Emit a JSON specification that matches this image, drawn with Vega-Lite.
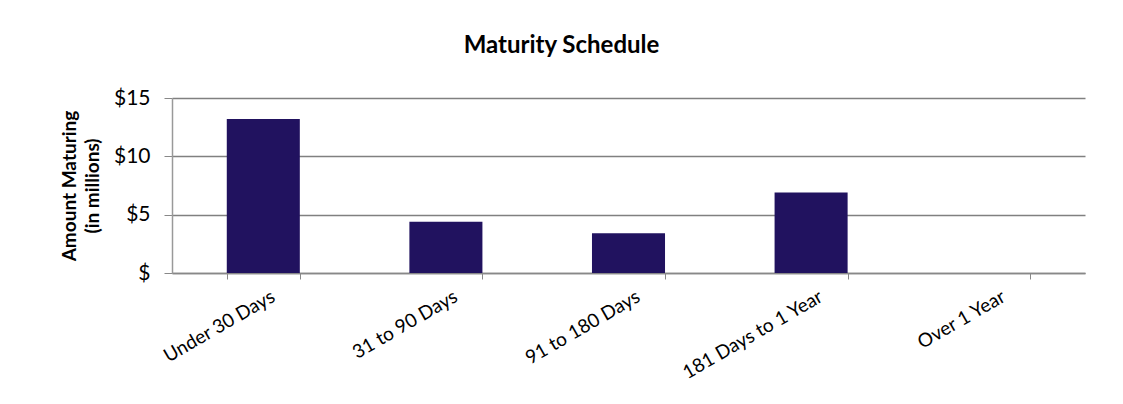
{
  "$schema": "https://vega.github.io/schema/vega-lite/v6.json",
  "autosize": {"type": "none"},
  "width": 913,
  "height": 175,
  "padding": {"left": 172, "top": 98, "right": 38, "bottom": 131},
  "background": "white",
  "title": {
    "text": "Maturity Schedule",
    "font": "Lato",
    "fontSize": 24,
    "fontWeight": "bold",
    "color": "black",
    "anchor": "middle",
    "dx": -67,
    "offset": 29
  },
  "data": {
    "values": [
      {"term": "Under 30 Days", "amount": 13.2},
      {"term": "31 to 90 Days", "amount": 4.4},
      {"term": "91 to 180 Days", "amount": 3.4},
      {"term": "181 Days to 1 Year", "amount": 6.9},
      {"term": "Over 1 Year", "amount": 0}
    ]
  },
  "mark": {"type": "bar", "color": "#21125f"},
  "encoding": {
    "x": {
      "field": "term",
      "type": "nominal",
      "sort": null,
      "scale": {"paddingInner": 0.6, "paddingOuter": 0.3},
      "axis": {
        "title": null,
        "labelAngle": -30,
        "labelAlign": "right",
        "labelBaseline": "top",
        "labelFont": "Lato",
        "labelFontSize": 19,
        "labelColor": "black",
        "labelPadding": 8,
        "labelOffset": 5,
        "tickBand": "extent",
        "tickSize": 6,
        "tickColor": "#888888",
        "domainColor": "#888888",
        "domainWidth": 1.5,
        "grid": false
      }
    },
    "y": {
      "field": "amount",
      "type": "quantitative",
      "scale": {"domain": [0, 15]},
      "axis": {
        "values": [0, 5, 10, 15],
        "labelExpr": "datum.value == 0 ? '$' : '$' + datum.value",
        "title": ["Amount Maturing", "(in millions)"],
        "titleFont": "Lato",
        "titleFontSize": 19,
        "titleFontWeight": "bold",
        "titleColor": "black",
        "titleLineHeight": 23,
        "titlePadding": 11,
        "labelFont": "Lato",
        "labelFontSize": 21,
        "labelColor": "black",
        "labelPadding": 14,
        "tickSize": 8,
        "tickColor": "#888888",
        "domainColor": "#999999",
        "domainWidth": 1.5,
        "grid": true,
        "gridColor": "#808080",
        "gridWidth": 1.5
      }
    }
  },
  "config": {"view": {"stroke": null}}
}
